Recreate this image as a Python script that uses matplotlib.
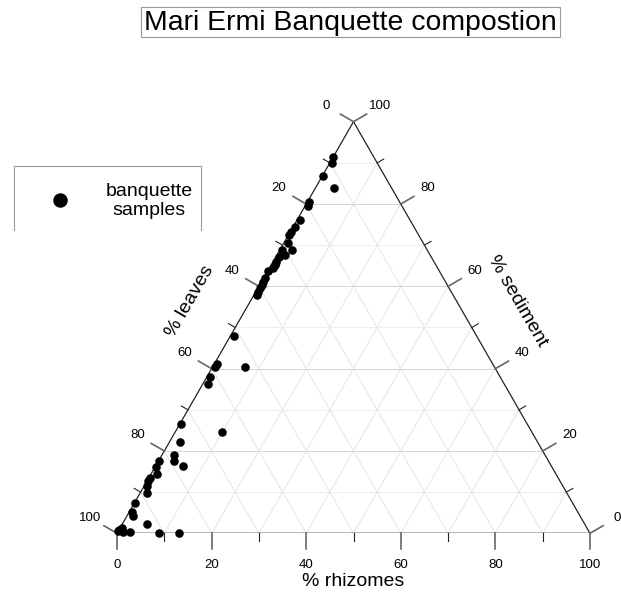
import numpy as np
import matplotlib.pyplot as plt
from matplotlib.lines import Line2D
from matplotlib.patches import Rectangle

plt.rcParams['font.family'] = ['Liberation Sans', 'DejaVu Sans']

# banquette samples, % composition
rhizomes = [0.0, 0.5, 0.2, 4.0, 0.4, 0.6, 0.6, 0.4, 0.2, 0.2, 0.9, 0.5, 2.6, 1.7,
            0.7, 0.7, 0.8, 0.8, 0.1, 0.3, 0.4, 0.5, 0.4, 0.5, 0.7, 0.8, 0.6, 0.5,
            6.9, 0.7, 1.0, 0.2, 9.9, 2.2, 2.6, 3.3, 0.1, 5.8, 0.2, 1.2, 0.3, 0.2,
            0.6, 1.5, 0.1, 0.6, 1.3, 5.2, 0.4, 0.0, 1.1, 2.6, 8.9, 13.1, 0.0]
leaves = [8.6, 9.5, 13.0, 12.1, 19.1, 19.9, 23.3, 25.2, 26.6, 27.3, 28.6, 30.7,
          28.6, 30.7, 32.2, 33.4, 34.0, 34.7, 36.2, 37.7, 38.6, 39.2, 40.0, 40.9,
          41.4, 51.3, 58.3, 59.1, 52.7, 61.3, 62.7, 73.2, 65.5, 75.6, 78.4, 79.1,
          82.3, 77.8, 83.7, 84.4, 86.3, 87.1, 87.9, 88.7, 92.5, 94.2, 94.5, 92.5,
          98.3, 99.2, 98.6, 97.1, 91.0, 86.8, 99.4]
sediment = [91.4, 90.0, 86.8, 83.9, 80.5, 79.5, 76.1, 74.4, 73.2, 72.5, 70.5, 68.8,
            68.8, 67.6, 67.1, 65.9, 65.2, 64.5, 63.7, 62.0, 61.0, 60.3, 59.6, 58.6,
            57.9, 47.9, 41.1, 40.4, 40.4, 38.0, 36.3, 26.6, 24.6, 22.2, 19.0, 17.6,
            17.6, 16.4, 16.1, 14.4, 13.4, 12.7, 11.5, 9.8, 7.4, 5.2, 4.2, 2.3,
            1.3, 0.8, 0.3, 0.3, 0.1, 0.1, 0.6]

tick_vals = list(range(0, 101, 10))
label_vals = list(range(0, 101, 20))

H = np.sqrt(3) / 2


def tern(r, s):
    # rhizomes -> bottom right corner, sediment -> top, leaves -> bottom left
    r = np.asarray(r, float)
    s = np.asarray(s, float)
    return r + s / 2, s * H


W, Hpx = 621, 594
fig = plt.figure(figsize=(W / 100, Hpx / 100), dpi=100)
ax = fig.add_axes([117 / W, (Hpx - 533.3) / Hpx, 473 / W, 411.6 / Hpx])
ax.set_xlim(0, 100)
ax.set_ylim(0, 100 * H)
ax.axis('off')

# grid
for v in range(10, 100, 10):
    hc = '#d4d4d4' if v % 20 == 0 else '#eeeeee'
    x, y = tern([0, 100 - v], [v, v])          # constant sediment
    ax.plot(x, y, color=hc, lw=0.7, zorder=1)
    x, y = tern([v, v], [0, 100 - v])          # constant rhizomes
    ax.plot(x, y, color='#e2e2e2', lw=0.6, zorder=1)
    x, y = tern([0, 100 - v], [100 - v, 0])    # constant leaves
    ax.plot(x, y, color='#e2e2e2', lw=0.6, zorder=1)

# triangle
x, y = tern([0, 100, 0, 0], [0, 0, 100, 0])
ax.plot(x, y, color='#222222', lw=0.9, zorder=3, solid_joinstyle='miter')

# ticks and tick labels (lengths in data units, ~4.73 px per unit)
maj, mnr, off = 3.2, 1.6, 6.6
dirs = {'bottom': (0.0, -1.0), 'left': (-H, 0.5), 'right': (H, 0.5)}
for v in tick_vals:
    pts = {'bottom': tern(v, 0), 'left': tern(0, 100 - v), 'right': tern(100 - v, v)}
    for side, (px, py) in pts.items():
        dx, dy = dirs[side]
        major = v % 20 == 0
        ln = maj if major else mnr
        ax.plot([px, px + dx * ln], [py, py + dy * ln],
                color='#666666' if major else '#222222', lw=1.2 if major else 0.8,
                clip_on=False, zorder=3)
        if v in label_vals:
            ax.text(px + dx * off, py + dy * off, str(v), fontsize=9.5,
                    ha='center', va='center', clip_on=False)

# data
tot = np.array(rhizomes) + np.array(leaves) + np.array(sediment)
xs, ys = tern(np.array(rhizomes) / tot * 100, np.array(sediment) / tot * 100)
ax.scatter(xs, ys, s=38, color='black', zorder=5, clip_on=False, linewidths=0)

# axis titles
ax.text(50, -10.2, '% rhizomes', fontsize=14, ha='center', va='center')
lx, ly = tern(0, 50)
ax.text(lx - 9.6, ly + 5.6, '% leaves', fontsize=14, rotation=60,
        ha='center', va='center', rotation_mode='anchor')
rx, ry = tern(50, 50)
ax.text(rx + 9.6, ry + 5.6, '% sediment', fontsize=14, rotation=-60,
        ha='center', va='center', rotation_mode='anchor')


def fx(p):
    return p / W


def fy(p):
    return 1 - p / Hpx


# title box
fig.patches.append(Rectangle((fx(141), fy(37)), fx(560) - fx(141), fy(7) - fy(37),
                             transform=fig.transFigure, fill=False,
                             ec='#999999', lw=0.8))
fig.text(fx(350), fy(22.5), 'Mari Ermi Banquette compostion', fontsize=20.4,
         ha='center', va='center')

# legend (open at the bottom)
fig.add_artist(Line2D([fx(14), fx(14), fx(200.5), fx(200.5)],
                      [fy(230), fy(165.7), fy(165.7), fy(230)],
                      transform=fig.transFigure, color='#999999', lw=0.8))
fig.add_artist(Line2D([fx(60)], [fy(200)], transform=fig.transFigure,
                      marker='o', markersize=9.4, color='black', ls='none'))
fig.text(fx(149), fy(201), 'banquette\nsamples', fontsize=14, ha='center',
         va='center', linespacing=1.1)

fig.savefig('out.png', dpi=100)
